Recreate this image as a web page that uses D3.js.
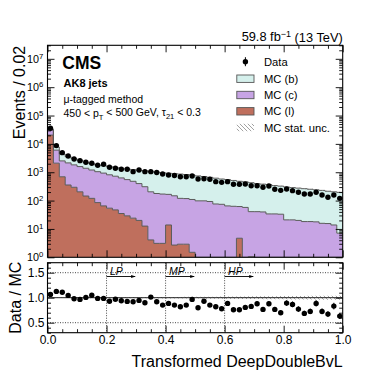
<!DOCTYPE html>
<html><head><meta charset="utf-8">
<script src="https://cdn.jsdelivr.net/npm/d3@7"></script>
<style>
html,body{margin:0;padding:0;background:#fff;}
svg{display:block;font-family:"Liberation Sans",Arial,Helvetica,sans-serif;}
</style></head><body>
<svg id="chart" width="381" height="381"></svg>
<script>
// ---------------- data ----------------
const binEdges = d3.range(0, 51).map(i => +(i * 0.02).toFixed(2));
const dataCounts = [35500, 8700, 4900, 3720, 2930, 2560, 2240, 2080, 1760, 1910,
  1500, 1380, 1270, 1270, 1050, 1200, 1050, 1050, 980, 870,
  800, 770, 690, 690, 740, 575, 590, 565, 465, 440,
  465, 375, 375, 385, 335, 335, 295, 327, 250, 230,
  257, 224, 196, 171, 171, 196, 158, 131, 158, 120];
const mcB = [2200, 1736, 1853, 1410, 1200, 1045, 859, 793, 731, 765,
  772, 755, 749, 768, 751, 777, 813, 843, 822, 785,
  757, 743, 741, 714, 684, 643, 610, 568, 541, 501,
  485, 450, 417, 400, 386, 357, 340, 329, 305, 291,
  281, 267, 255, 245, 233, 222, 213, 198, 190, 188];
const mcC = [10500, 3940, 1820, 1780, 1525, 1380, 1235, 1080, 962, 868,
  759, 677, 596, 521, 455, 378, 296, 200, 175, 167,
  152, 145, 117, 115, 108, 98, 98, 93, 76, 74,
  65, 63, 57, 57.5, 39.7, 40.7, 39.8, 33.9, 33.9, 33.1,
  20.9, 20.9, 20.0, 18.2, 18.2, 17.8, 15.8, 15.5, 13.8, 7.1];
const mcL = [20400, 2090, 692, 355, 295, 204, 145, 120, 85, 65,
  54, 47, 35, 29, 24, 20, 12.6, 4.1, 3.1, 3.1,
  13.8, 2.7, 2.9, 2.9, 1.5, 0, 0, 0, 0, 0,
  0, 0, 4.7, 0, 1.05, 0, 0, 0, 0, 0,
  0, 0, 0, 0, 0, 0, 0, 0, 0, 0];
const mcRelUnc = [0.004, 0.006, 0.006, 0.007, 0.007, 0.008, 0.008, 0.009, 0.009, 0.009,
  0.010, 0.011, 0.011, 0.012, 0.012, 0.012, 0.013, 0.014, 0.014, 0.015,
  0.015, 0.016, 0.016, 0.017, 0.018, 0.018, 0.019, 0.020, 0.021, 0.022,
  0.023, 0.024, 0.025, 0.025, 0.027, 0.028, 0.029, 0.030, 0.031, 0.032,
  0.033, 0.034, 0.035, 0.036, 0.037, 0.038, 0.039, 0.040, 0.041, 0.043];
const ratio = [1.066, 1.126, 1.11, 1.046, 0.98, 0.966, 1.006, 1.05, 0.986, 0.986,
  0.93, 0.97, 0.94, 0.926, 0.92, 0.946, 0.90, 1.012, 0.92, 0.852,
  0.886, 0.852, 0.82, 0.852, 0.966, 0.80, 0.93, 0.852, 0.82, 0.78,
  0.886, 0.76, 0.76, 0.806, 0.826, 0.88, 0.766, 0.88, 0.766, 0.70,
  0.892, 0.866, 0.772, 0.686, 0.726, 0.886, 0.726, 0.672, 0.832, 0.632];
const xTicks = [0, 0.2, 0.4, 0.6, 0.8, 1.0];
const yExps = [0, 1, 2, 3, 4, 5, 6, 7];
const ratioTicks = [0.5, 1.0, 1.5];
const wpLabels = ["LP", "MP", "HP"];
const wpCuts = [0.2, 0.4, 0.6];
const legendLabels = ["Data", "MC (b)", "MC (c)", "MC (l)", "MC stat. unc."];
const colors = { b: "#d5f0ec", c: "#c7a4e4", l: "#bf6f5d" };

// ---------------- layout ----------------
const svg = d3.select("#chart");
const L = 47.5, R = 342.7, T = 45.3, MB = 257.3, RT = 262.7, RB = 332.7;
const x = d3.scaleLinear([0, 1], [L, R]);
const y = d3.scaleLog([1, 3e7], [MB, T]).clamp(true);
const yr = d3.scaleLinear([0.3, 1.7], [RB, RT]);
const safe = v => Math.max(v, 0.01);

const defs = svg.append("defs");
defs.append("clipPath").attr("id", "clipMain").append("rect")
  .attr("x", L).attr("y", T).attr("width", R - L).attr("height", MB - T);
defs.append("clipPath").attr("id", "clipRatio").append("rect")
  .attr("x", L).attr("y", RT).attr("width", R - L).attr("height", RB - RT);
const pat = defs.append("pattern").attr("id", "hatch").attr("patternUnits", "userSpaceOnUse")
  .attr("width", 4).attr("height", 4);
pat.append("path").attr("d", "M-1,3 L1,5 M-1,-1 L5,5 M3,-1 L5,1")
  .attr("stroke", "#8a8a8a").attr("stroke-width", 0.8);

// ---------------- main panel ----------------
const gMain = svg.append("g").attr("clip-path", "url(#clipMain)");
const rows = mcB.map((b, i) => ({ l: mcL[i], c: mcC[i], b: b }));
const stacked = d3.stack().keys(["l", "c", "b"])(rows);
const stepPts = arr => {
  const pts = arr.map((d, i) => ({ x: binEdges[i], y0: d[0], y1: d[1] }));
  const last = arr[arr.length - 1];
  pts.push({ x: binEdges[binEdges.length - 1], y0: last[0], y1: last[1] });
  return pts;
};
const area = d3.area().x(d => x(d.x)).y0(d => y(safe(d.y0))).y1(d => y(safe(d.y1))).curve(d3.curveStepAfter);
const topLine = d3.line().x(d => x(d.x)).y(d => y(safe(d.y1))).curve(d3.curveStepAfter);
stacked.forEach(layer => {
  gMain.append("path").attr("d", area(stepPts(layer))).attr("fill", colors[layer.key]).attr("stroke", "none");
});
stacked.forEach(layer => {
  gMain.append("path").attr("d", topLine(stepPts(layer))).attr("fill", "none")
    .attr("stroke", "#5a5a5a").attr("stroke-width", 1);
});
// MC stat unc band (main)
const totals = mcB.map((b, i) => b + mcC[i] + mcL[i]);
const uncPts = totals.map((t, i) => ({ x: binEdges[i], y0: t * (1 - mcRelUnc[i]), y1: t * (1 + mcRelUnc[i]) }));
uncPts.push({ x: 1, y0: uncPts[49].y0, y1: uncPts[49].y1 });
gMain.append("path").attr("d", area(uncPts)).attr("fill", "url(#hatch)");

// data points
const centers = binEdges.slice(0, 50).map(e => e + 0.01);
const gData = svg.append("g");
gData.selectAll("line.err").data(dataCounts).join("line")
  .attr("x1", (d, i) => x(centers[i])).attr("x2", (d, i) => x(centers[i]))
  .attr("y1", d => y(d + Math.sqrt(d))).attr("y2", d => y(d - Math.sqrt(d)))
  .attr("stroke", "#000").attr("stroke-width", 1);
gData.selectAll("circle").data(dataCounts).join("circle")
  .attr("cx", (d, i) => x(centers[i])).attr("cy", d => y(d)).attr("r", 2.7).attr("fill", "#000");

// ---------------- ratio panel ----------------
const gRatio = svg.append("g").attr("clip-path", "url(#clipRatio)");
const rArea = d3.area().x(d => x(d.x)).y0(d => yr(d.y0)).y1(d => yr(d.y1)).curve(d3.curveStepAfter);
const rUnc = mcRelUnc.map((u, i) => ({ x: binEdges[i], y0: 1 - u, y1: 1 + u }));
rUnc.push({ x: 1, y0: rUnc[49].y0, y1: rUnc[49].y1 });
gRatio.append("path").attr("d", rArea(rUnc)).attr("fill", "url(#hatch)");
// grid lines
gRatio.selectAll("line.h").data([0.5, 1.5]).join("line")
  .attr("x1", L).attr("x2", R).attr("y1", d => yr(d)).attr("y2", d => yr(d))
  .attr("stroke", "#333").attr("stroke-width", 0.9).attr("stroke-dasharray", "1,1.5");
gRatio.append("line").attr("x1", L).attr("x2", R).attr("y1", yr(1)).attr("y2", yr(1))
  .attr("stroke", "#222").attr("stroke-width", 1);
gRatio.selectAll("line.v").data(wpCuts).join("line")
  .attr("x1", d => x(d)).attr("x2", d => x(d)).attr("y1", RT).attr("y2", RB)
  .attr("stroke", "#333").attr("stroke-width", 0.9).attr("stroke-dasharray", "1,1.5");
// WP labels with arrows
defs.append("marker").attr("id", "arrow").attr("viewBox", "0 0 10 10").attr("refX", 9).attr("refY", 5)
  .attr("markerWidth", 5).attr("markerHeight", 5).attr("orient", "auto")
  .append("path").attr("d", "M0,1.5 L10,5 L0,8.5 Z").attr("fill", "#000");
wpCuts.forEach((c, i) => {
  gRatio.append("line").attr("x1", x(c)).attr("x2", x(c + 0.097)).attr("y1", 276.5).attr("y2", 276.5)
    .attr("stroke", "#000").attr("stroke-width", 0.9).attr("marker-end", "url(#arrow)");
  gRatio.append("text").attr("x", x(c) + 3.5).attr("y", 274.5).attr("font-size", 10.5)
    .attr("font-style", "italic").text(wpLabels[i]);
});
// ratio points
const gR = svg.append("g").attr("clip-path", "url(#clipRatio)");
gR.selectAll("line").data(ratio).join("line")
  .attr("x1", (d, i) => x(centers[i])).attr("x2", (d, i) => x(centers[i]))
  .attr("y1", (d, i) => yr(d * (1 + 1 / Math.sqrt(dataCounts[i]))))
  .attr("y2", (d, i) => yr(d * (1 - 1 / Math.sqrt(dataCounts[i]))))
  .attr("stroke", "#000").attr("stroke-width", 1);
gR.selectAll("circle").data(ratio).join("circle")
  .attr("cx", (d, i) => x(centers[i])).attr("cy", d => yr(d)).attr("r", 2.7).attr("fill", "#000");

// ---------------- axes ----------------
function styleAxis(g, fs) {
  g.select(".domain").remove();
  g.selectAll(".tick line").attr("stroke", "#000").attr("stroke-width", 0.9);
  g.selectAll(".tick text").attr("font-size", fs || 12).attr("fill", "#000")
    .attr("font-family", '"Liberation Sans",Arial,Helvetica,sans-serif');
}
const xMinor = d3.range(0, 21).map(i => +(i * 0.05).toFixed(2)).filter(v => !xTicks.some(t => Math.abs(t - v) < 1e-9));
const yMajor = yExps.map(e => Math.pow(10, e));
const yMinor = [];
yExps.forEach(e => { for (let k = 2; k <= 9; k++) { const v = k * Math.pow(10, e); if (v <= 3e7) yMinor.push(v); } });
const rMinor = d3.range(3, 18).map(i => +(i * 0.1).toFixed(1)).filter(v => !ratioTicks.includes(v));

function xTickSet(yPos, axisFn, labels) {
  svg.append("g").attr("transform", `translate(0,${yPos})`)
    .call(axisFn(x).tickValues(xTicks).tickSize(-7).tickPadding(2.8)
      .tickFormat(labels ? d3.format(".1f") : () => "")).call(styleAxis);
  svg.append("g").attr("transform", `translate(0,${yPos})`)
    .call(axisFn(x).tickValues(xMinor).tickSize(-3.5).tickFormat(() => "")).call(styleAxis);
}
xTickSet(MB, d3.axisBottom, false);
xTickSet(T, d3.axisTop, false);
xTickSet(RB, d3.axisBottom, true);
xTickSet(RT, d3.axisTop, false);

// main y
const gyl = svg.append("g").attr("transform", `translate(${L},0)`)
  .call(d3.axisLeft(y).tickValues(yMajor).tickSize(-7).tickPadding(4.2).tickFormat(() => ""))
  .call(g => styleAxis(g, 10.8));
gyl.selectAll(".tick text").each(function (d) {
  const t = d3.select(this);
  t.text("10");
  t.append("tspan").attr("dy", "-0.5em").attr("font-size", "0.72em").text(Math.round(Math.log10(d)));
});
svg.append("g").attr("transform", `translate(${L},0)`)
  .call(d3.axisLeft(y).tickValues(yMinor).tickSize(-3.5).tickFormat(() => "")).call(styleAxis);
svg.append("g").attr("transform", `translate(${R},0)`)
  .call(d3.axisRight(y).tickValues(yMajor).tickSize(-7).tickFormat(() => "")).call(styleAxis);
svg.append("g").attr("transform", `translate(${R},0)`)
  .call(d3.axisRight(y).tickValues(yMinor).tickSize(-3.5).tickFormat(() => "")).call(styleAxis);

// ratio y
svg.append("g").attr("transform", `translate(${L},0)`)
  .call(d3.axisLeft(yr).tickValues(ratioTicks).tickSize(-7).tickPadding(3).tickFormat(d3.format(".1f"))).call(styleAxis);
svg.append("g").attr("transform", `translate(${L},0)`)
  .call(d3.axisLeft(yr).tickValues(rMinor).tickSize(-3.5).tickFormat(() => "")).call(styleAxis);
svg.append("g").attr("transform", `translate(${R},0)`)
  .call(d3.axisRight(yr).tickValues(ratioTicks).tickSize(-7).tickFormat(() => "")).call(styleAxis);
svg.append("g").attr("transform", `translate(${R},0)`)
  .call(d3.axisRight(yr).tickValues(rMinor).tickSize(-3.5).tickFormat(() => "")).call(styleAxis);

// frames
svg.append("rect").attr("x", L).attr("y", T).attr("width", R - L).attr("height", MB - T)
  .attr("fill", "none").attr("stroke", "#000").attr("stroke-width", 1.1);
svg.append("rect").attr("x", L).attr("y", RT).attr("width", R - L).attr("height", RB - RT)
  .attr("fill", "none").attr("stroke", "#000").attr("stroke-width", 1.1);

// ---------------- titles ----------------
svg.append("text").attr("transform", `translate(24.5,${T + 0.5}) rotate(-90)`).attr("text-anchor", "end")
  .attr("font-size", 16).text("Events / 0.02");
svg.append("text").attr("transform", `translate(20.5,${(RT + RB) / 2}) rotate(-90)`).attr("text-anchor", "middle")
  .attr("font-size", 16).text("Data / MC");
svg.append("text").attr("x", R).attr("y", 366.7).attr("text-anchor", "end")
  .attr("font-size", 16).text("Transformed DeepDoubleBvL");

const lumi = svg.append("text").attr("x", R).attr("y", 40.7).attr("text-anchor", "end").attr("font-size", 12.8);
lumi.append("tspan").text("59.8 fb");
lumi.append("tspan").attr("dy", "-0.45em").attr("font-size", "0.7em").text("\u22121");
lumi.append("tspan").attr("dy", "0.45em").text(" (13 TeV)");

svg.append("text").attr("x", 62.3).attr("y", 69.3).attr("font-size", 17.5).attr("font-weight", "bold").text("CMS");
svg.append("text").attr("x", 63.5).attr("y", 87.3).attr("font-size", 11).attr("font-weight", "bold").text("AK8 jets");
svg.append("text").attr("x", 63.5).attr("y", 103.3).attr("font-size", 10.5).text("\u03bc-tagged method");
const sel = svg.append("text").attr("x", 63.5).attr("y", 117.3).attr("font-size", 10.5);
sel.append("tspan").text("450 < p");
sel.append("tspan").attr("dy", "0.3em").attr("font-size", "0.72em").text("T");
sel.append("tspan").attr("dy", "-0.3em").text(" < 500 GeV, \u03c4");
sel.append("tspan").attr("dy", "0.3em").attr("font-size", "0.72em").text("21");
sel.append("tspan").attr("dy", "-0.3em").text(" < 0.3");

// ---------------- legend ----------------
const legY = [61.7, 78.7, 95, 111.3, 127.5];
const gLeg = svg.append("g");
legendLabels.forEach((lab, i) => {
  const cy = legY[i];
  if (i === 0) {
    gLeg.append("line").attr("x1", 245.4).attr("x2", 245.4).attr("y1", cy - 4.5).attr("y2", cy + 4.5)
      .attr("stroke", "#000").attr("stroke-width", 1);
    gLeg.append("circle").attr("cx", 245.4).attr("cy", cy).attr("r", 2.7).attr("fill", "#000");
  } else if (i < 4) {
    const key = ["b", "c", "l"][i - 1];
    gLeg.append("rect").attr("x", 236.8).attr("y", cy - 3.7).attr("width", 17.2).attr("height", 7.4)
      .attr("fill", colors[key]).attr("stroke", "#555").attr("stroke-width", 0.9);
  } else {
    gLeg.append("rect").attr("x", 236.8).attr("y", cy - 3.7).attr("width", 17.2).attr("height", 7.4)
      .attr("fill", "url(#hatch)");
  }
  gLeg.append("text").attr("x", 264).attr("y", cy + 4).attr("font-size", 11.2).text(lab);
});
</script>
</body></html>
